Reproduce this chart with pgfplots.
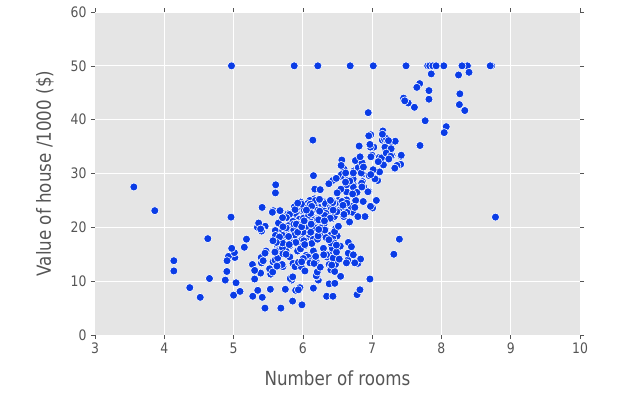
\documentclass[border=0pt]{standalone}
\usepackage{pgfplots}
\pgfplotsset{compat=1.18}
\usepackage{fontspec}
\setmainfont{DejaVu Sans}
\newfontfamily\narrowfont[FakeStretch=0.86]{DejaVu Sans}
\definecolor{bgray}{HTML}{E5E5E5}
\definecolor{txtgray}{HTML}{555555}
\definecolor{dotblue}{RGB}{10,60,230}
\begin{document}
\begin{tikzpicture}[x=1bp,y=1bp]
\path[use as bounding box] (-95,-58) rectangle (535,335);
\begin{axis}[
  at={(0,0)}, anchor=south west,
  scale only axis, width=485bp, height=323bp,
  xmin=3, xmax=10, ymin=0, ymax=60,
  xtick={3,4,...,10}, ytick={0,10,...,60},
  axis background/.style={fill=bgray},
  axis line style={draw=none},
  grid=major, major grid style={white, line width=1bp},
  tick align=outside, major tick length=4bp,
  tick style={txtgray, line width=0.6bp},
  ticklabel pos=left,
  xtick pos=both, ytick pos=both,
  /pgf/number format/assume math mode=true,
  tick label style={font=\narrowfont\fontsize{14.5}{16}\selectfont, text=txtgray},
  yticklabel style={xshift=-1bp},
  label style={font=\narrowfont\fontsize{19.5}{22}\selectfont, text=txtgray},
  xlabel={Number of rooms}, ylabel={Value of house /1000 (\$)},
  xlabel style={at={(axis description cs:0.5,-0.133)}, anchor=center},
  ylabel style={at={(axis description cs:-0.103,0.5)}, anchor=center},
  clip=false,
]
\addplot[only marks, mark=*, mark size=4bp, mark options={fill=dotblue, draw=white, line width=0.6bp}] coordinates {
(6.575,24.0)(6.421,21.6)(7.185,34.7)(6.998,33.4)(7.147,36.2)(6.430,28.7)(6.012,22.9)(6.172,27.1)(5.631,16.5)(6.004,18.9)
(6.377,15.0)(6.009,18.9)(5.889,21.7)(5.949,20.4)(6.096,18.2)(5.834,19.9)(5.935,23.1)(5.990,17.5)(5.456,20.2)(5.727,18.2)
(5.570,13.6)(5.965,19.6)(6.142,15.2)(5.813,14.5)(5.924,15.6)(5.599,13.9)(5.813,16.6)(6.047,14.8)(6.495,18.4)(6.674,21.0)
(5.713,12.7)(6.072,14.5)(5.950,13.2)(5.701,13.1)(6.096,13.5)(5.933,18.9)(5.841,20.0)(5.850,21.0)(5.966,24.7)(6.595,30.8)
(7.024,34.9)(6.770,26.6)(6.169,25.3)(6.211,24.7)(6.069,21.2)(5.682,19.3)(5.786,20.0)(6.030,16.6)(5.399,14.4)(5.602,19.4)
(5.963,19.7)(6.115,20.5)(6.511,25.0)(5.998,23.4)(5.888,18.9)(7.249,35.4)(6.383,24.7)(6.816,31.6)(6.145,23.3)(5.927,19.6)
(5.741,18.7)(5.966,16.0)(6.456,22.2)(6.762,25.0)(7.104,33.0)(6.290,23.5)(5.787,19.4)(5.878,22.0)(5.594,17.4)(5.885,20.9)
(6.417,24.2)(5.961,21.7)(6.065,22.8)(6.245,23.4)(6.273,24.1)(6.286,21.4)(6.279,20.0)(6.140,20.8)(6.232,21.2)(5.874,20.3)
(6.727,28.0)(6.619,23.9)(6.302,24.8)(6.167,22.9)(6.389,23.9)(6.630,26.6)(6.015,22.5)(6.121,22.2)(7.007,23.6)(7.079,28.7)
(6.417,22.6)(6.405,22.0)(6.442,22.9)(6.211,25.0)(6.249,20.6)(6.625,28.4)(6.163,21.4)(8.069,38.7)(7.820,43.8)(7.416,33.2)
(6.727,27.5)(6.781,26.5)(6.405,18.6)(6.137,19.3)(6.167,20.1)(5.851,19.5)(5.836,19.5)(6.127,20.4)(6.474,19.8)(6.229,19.4)
(6.195,21.7)(6.715,22.8)(5.913,18.8)(6.092,18.7)(6.254,18.5)(5.928,18.3)(6.176,21.2)(6.021,19.2)(5.872,20.4)(5.731,19.3)
(5.870,22.0)(6.004,20.3)(5.961,20.5)(5.856,17.3)(5.879,18.8)(5.986,21.4)(5.613,15.7)(5.693,16.2)(6.431,18.0)(5.637,14.3)
(6.458,19.2)(6.326,19.6)(6.372,23.0)(5.822,18.4)(5.757,15.6)(6.335,18.1)(5.942,17.4)(6.454,17.1)(5.857,13.3)(6.151,17.8)
(6.174,14.0)(5.019,14.4)(5.403,13.4)(5.468,15.6)(4.903,11.8)(6.130,13.8)(5.628,15.6)(4.926,14.6)(5.186,17.8)(5.597,15.4)
(6.122,21.5)(5.404,19.6)(5.012,15.3)(5.709,19.4)(6.129,17.0)(6.152,15.6)(5.272,13.1)(6.943,41.3)(6.066,24.3)(6.510,23.3)
(6.250,27.0)(7.489,50.0)(7.802,50.0)(8.375,50.0)(5.854,22.7)(6.101,25.0)(7.929,50.0)(5.877,23.8)(6.319,23.8)(6.402,22.3)
(5.875,17.4)(5.880,19.1)(5.572,23.1)(6.416,23.6)(5.859,22.6)(6.546,29.4)(6.020,23.2)(6.315,24.6)(6.860,29.9)(6.980,37.2)
(7.765,39.8)(6.144,36.2)(7.155,37.9)(6.563,32.5)(5.604,26.4)(6.153,29.6)(7.831,50.0)(6.782,32.0)(6.556,29.8)(7.185,34.9)
(6.951,37.0)(6.739,30.5)(7.178,36.4)(6.800,31.1)(6.604,29.1)(7.875,50.0)(7.287,33.3)(7.107,30.3)(7.274,34.6)(6.975,34.9)
(7.135,32.9)(6.162,24.1)(7.610,42.3)(7.853,48.5)(8.034,50.0)(5.891,22.6)(6.326,24.4)(5.783,22.5)(6.064,24.4)(5.344,20.0)
(5.960,21.7)(5.404,19.3)(5.807,22.4)(6.375,28.1)(5.412,23.7)(6.182,25.0)(5.888,23.3)(6.642,28.7)(5.951,21.5)(6.373,23.0)
(6.951,26.7)(6.164,21.7)(6.879,27.5)(6.618,30.1)(8.266,44.8)(8.725,50.0)(8.040,37.6)(7.163,31.6)(7.686,46.7)(6.552,31.5)
(5.981,24.3)(7.412,31.7)(8.337,41.7)(8.247,48.3)(6.726,29.0)(6.086,24.0)(6.631,25.1)(7.358,31.5)(6.481,23.7)(6.606,23.3)
(6.897,22.0)(6.095,20.1)(6.358,22.2)(6.393,23.7)(5.593,17.6)(5.605,18.5)(6.108,24.3)(6.226,20.5)(6.433,24.5)(6.718,26.2)
(6.487,24.4)(6.438,24.8)(6.957,29.6)(8.259,42.8)(6.108,21.9)(5.876,20.9)(7.454,44.0)(8.704,50.0)(7.333,36.0)(6.842,30.1)
(7.203,33.8)(7.520,43.1)(8.398,48.8)(7.327,31.0)(7.206,36.5)(5.560,22.8)(7.014,30.7)(8.297,50.0)(7.470,43.5)(5.920,20.7)
(5.856,21.1)(6.240,25.2)(6.538,24.4)(7.691,35.2)(6.758,32.4)(6.854,32.0)(7.267,33.2)(6.826,33.1)(6.482,29.1)(6.812,35.1)
(7.820,45.4)(6.968,35.4)(7.645,46.0)(7.923,50.0)(7.088,32.2)(6.453,22.0)(6.230,20.1)(6.209,23.2)(6.315,22.3)(6.565,24.8)
(6.861,28.5)(7.148,37.3)(6.630,27.9)(6.127,23.9)(6.009,21.7)(6.678,28.6)(6.549,27.1)(5.790,20.3)(6.345,22.5)(7.041,29.0)
(6.871,24.8)(6.590,22.0)(6.495,26.4)(6.982,33.1)(7.236,36.1)(6.616,28.4)(7.420,33.4)(6.849,28.2)(6.635,22.8)(5.972,20.3)
(4.973,16.1)(6.122,22.1)(6.023,19.4)(6.266,21.6)(6.567,23.8)(5.705,16.2)(5.914,17.8)(5.782,19.8)(6.382,23.1)(6.113,21.0)
(6.426,23.8)(6.376,23.1)(6.041,20.4)(5.708,18.5)(6.415,25.0)(6.431,24.6)(6.312,23.0)(6.083,22.2)(5.868,19.3)(6.333,22.6)
(6.144,19.8)(5.706,17.1)(6.031,19.4)(6.316,22.2)(6.310,20.7)(6.037,21.1)(5.869,19.5)(5.895,18.5)(6.059,20.6)(5.985,19.0)
(5.968,18.7)(7.241,32.7)(6.540,16.5)(6.696,23.9)(6.874,31.2)(6.014,17.5)(5.898,17.2)(6.516,23.1)(6.635,24.5)(6.939,26.6)
(6.490,22.9)(6.579,24.1)(5.884,18.6)(6.728,30.1)(5.663,18.2)(5.936,20.6)(6.212,17.8)(6.395,21.7)(6.127,22.7)(6.112,22.6)
(6.398,25.0)(6.251,19.9)(5.362,20.8)(5.803,16.8)(8.780,21.9)(3.561,27.5)(4.963,21.9)(3.863,23.1)(4.970,50.0)(6.683,50.0)
(7.016,50.0)(6.216,50.0)(5.875,50.0)(4.906,13.8)(4.138,13.8)(7.313,15.0)(6.649,13.9)(6.794,13.3)(6.380,13.1)(6.223,10.2)
(6.968,10.4)(6.545,10.9)(5.536,11.3)(5.520,12.3)(4.368,8.8)(5.277,7.2)(4.652,10.5)(5.000,7.4)(4.880,10.2)(5.390,11.5)
(5.713,15.1)(6.051,23.2)(5.036,9.7)(6.193,13.8)(5.887,12.7)(6.471,13.1)(6.405,12.5)(5.747,8.5)(5.453,5.0)(5.852,6.3)
(5.987,5.6)(6.343,7.2)(6.404,12.1)(5.349,8.3)(5.531,8.5)(5.683,5.0)(4.138,11.9)(5.608,27.9)(5.617,17.2)(6.852,27.5)
(5.757,15.0)(6.657,17.2)(4.628,17.9)(5.155,16.3)(4.519,7.0)(6.434,7.2)(6.782,7.5)(5.304,10.4)(5.957,8.8)(6.824,8.4)
(6.411,16.7)(6.006,14.2)(5.648,20.8)(6.103,13.4)(5.565,11.7)(5.896,8.3)(5.837,10.2)(6.202,10.9)(6.193,11.0)(6.380,9.5)
(6.348,14.5)(6.833,14.1)(6.425,16.1)(6.436,14.3)(6.208,11.7)(6.629,13.4)(6.461,9.6)(6.152,8.7)(5.935,8.4)(5.627,12.8)
(5.818,10.5)(6.406,17.1)(6.219,18.4)(6.485,15.4)(5.854,10.8)(6.459,11.8)(6.341,14.9)(6.251,12.6)(6.185,14.1)(6.417,13.0)
(6.749,13.4)(6.655,15.2)(6.297,16.1)(7.393,17.8)(6.728,14.9)(6.525,14.1)(5.976,12.7)(5.936,13.5)(6.301,14.9)(6.081,20.0)
(6.701,16.4)(6.376,17.7)(6.317,19.5)(6.513,20.2)(6.209,21.4)(5.759,19.9)(5.952,19.0)(6.003,19.1)(5.926,19.1)(5.713,20.1)
(6.167,19.9)(6.229,19.6)(6.437,23.2)(6.980,29.8)(5.427,13.8)(6.162,13.3)(6.484,16.7)(5.304,12.0)(6.185,14.6)(6.229,21.4)
(6.242,23.0)(6.750,23.7)(7.061,25.0)(5.762,21.8)(5.871,20.6)(6.312,21.2)(6.114,19.1)(5.905,20.6)(5.454,15.2)(5.414,7.0)
(5.093,8.1)(5.983,13.6)(5.983,20.1)(5.707,21.8)(5.926,24.5)(5.670,23.1)(5.390,19.7)(5.794,18.3)(6.019,21.2)(5.569,17.5)
(6.027,16.8)(6.593,22.4)(6.120,20.6)(6.976,23.9)(6.794,22.0)(6.030,11.9)
};
\end{axis}
\end{tikzpicture}
\end{document}
